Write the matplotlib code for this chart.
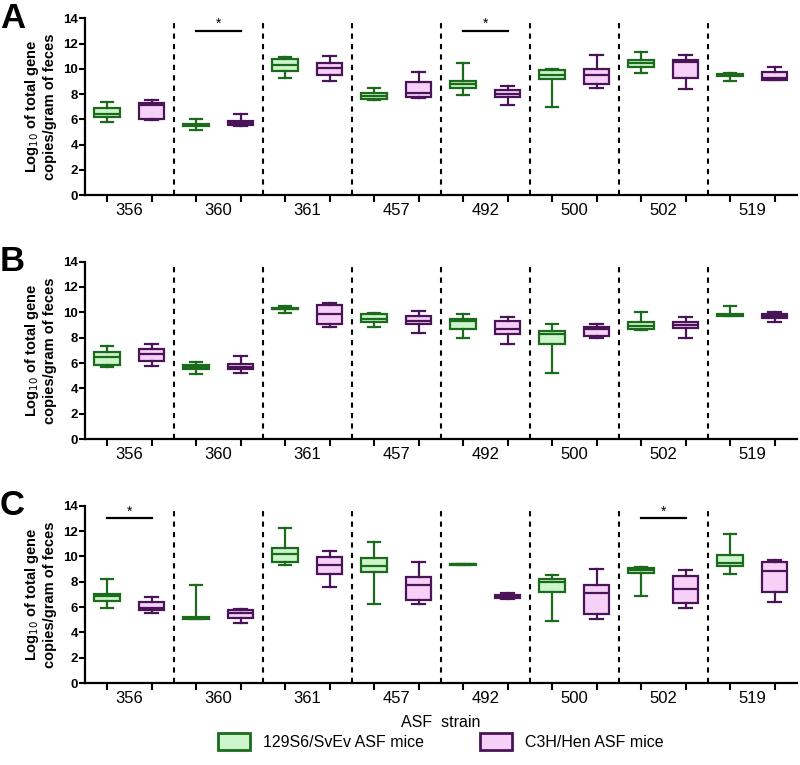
import numpy as np
import matplotlib.pyplot as plt
from matplotlib.patches import Patch

plt.rcParams['font.family'] = ['Liberation Sans', 'DejaVu Sans']

strains = ['356', '360', '361', '457', '492', '500', '502', '519']
groups = ['129S6/SvEv ASF mice', 'C3H/Hen ASF mice']

# [whisker low, q1, median, q3, whisker high] per strain
green_A = [[5.82, 6.2, 6.46, 6.91, 7.37], [5.16, 5.45, 5.55, 5.66, 6.06],
           [9.31, 9.81, 10.32, 10.77, 10.93], [7.53, 7.63, 7.85, 8.06, 8.51],
           [7.9, 8.48, 8.8, 9.07, 10.43], [6.94, 9.18, 9.55, 9.87, 10.0],
           [9.71, 10.16, 10.45, 10.74, 11.36], [9.04, 9.47, 9.55, 9.63, 9.71]]
purple_A = [[5.93, 6.06, 7.1, 7.29, 7.53], [5.5, 5.59, 5.72, 5.9, 6.41],
            [9.02, 9.55, 10.03, 10.45, 11.01], [7.69, 7.79, 8.11, 8.94, 9.76],
            [7.15, 7.74, 8.03, 8.35, 8.67], [8.51, 8.78, 9.55, 9.95, 11.06],
            [8.43, 9.31, 10.56, 10.69, 11.06], [9.08, 9.15, 9.25, 9.76, 10.16]]

green_B = [[5.72, 5.85, 6.46, 6.88, 7.36], [5.11, 5.51, 5.69, 5.83, 6.06],
           [9.97, 10.23, 10.28, 10.33, 10.47], [8.88, 9.2, 9.49, 9.83, 9.97],
           [7.99, 8.67, 9.31, 9.46, 9.83], [5.25, 7.49, 8.28, 8.49, 9.07],
           [8.62, 8.7, 8.94, 9.2, 9.99], [9.68, 9.7, 9.78, 9.86, 10.47]]
purple_B = [[5.8, 6.2, 6.75, 7.07, 7.54], [5.25, 5.54, 5.72, 5.93, 6.59],
            [8.88, 9.1, 9.83, 10.57, 10.7], [8.36, 9.1, 9.28, 9.75, 10.12],
            [7.51, 8.28, 8.7, 9.28, 9.65], [7.96, 8.15, 8.65, 8.81, 9.1],
            [8.01, 8.75, 8.99, 9.2, 9.62], [9.2, 9.54, 9.7, 9.83, 9.99]]

green_C = [[5.91, 6.46, 6.91, 7.07, 8.23], [5.04, 5.06, 5.14, 5.25, 7.72],
           [9.33, 9.54, 10.15, 10.65, 12.21], [6.27, 8.75, 9.25, 9.91, 11.13],
           [9.3, 9.32, 9.36, 9.4, 9.42], [4.88, 7.22, 8.01, 8.23, 8.54],
           [6.88, 8.67, 8.94, 9.12, 9.2], [8.62, 9.28, 9.46, 10.12, 11.78]]
purple_C = [[5.56, 5.75, 5.95, 6.41, 6.8], [4.77, 5.11, 5.51, 5.75, 5.85],
            [7.62, 8.62, 9.31, 9.99, 10.44], [6.27, 6.56, 7.75, 8.41, 9.57],
            [6.62, 6.72, 6.85, 6.99, 7.09], [5.04, 5.48, 7.12, 7.78, 9.02],
            [5.93, 6.3, 7.46, 8.46, 8.96], [6.41, 7.17, 8.83, 9.54, 9.75]]

# strains marked significant per panel
sig_A = ['360', '492']
sig_B = []
sig_C = ['356', '502']

panels = [('A', green_A, purple_A, sig_A),
          ('B', green_B, purple_B, sig_B),
          ('C', green_C, purple_C, sig_C)]

g_edge, g_fill = '#1c6b1c', '#ccf5cc'
p_edge, p_fill = '#4a1459', '#f7d0f7'

fig = plt.figure(figsize=(8, 7.65), dpi=100)
rects = [[0.106, 0.745, 0.89, 0.231],
         [0.106, 0.426, 0.89, 0.232],
         [0.106, 0.107, 0.89, 0.232]]


def stats(rows):
    return [dict(whislo=r[0], q1=r[1], med=r[2], q3=r[3], whishi=r[4], fliers=[])
            for r in rows]


x = np.arange(len(strains))
for rect, (letter, gvals, pvals, sig) in zip(rects, panels):
    ax = fig.add_axes(rect)
    for vals, pos, ec, fc in [(gvals, x - 0.25, g_edge, g_fill),
                              (pvals, x + 0.25, p_edge, p_fill)]:
        ax.bxp(stats(vals), positions=pos, widths=0.29, patch_artist=True,
               showfliers=False,
               boxprops=dict(facecolor=fc, edgecolor=ec, linewidth=1.6),
               medianprops=dict(color=ec, linewidth=1.6),
               whiskerprops=dict(color=ec, linewidth=1.6),
               capprops=dict(color=ec, linewidth=1.6), capwidths=0.14)
    for b in x[1:] - 0.5:
        ax.plot([b, b], [0, 14], color='black', ls=(0, (2.5, 2.5)), lw=1.5,
                clip_on=False)
    for s in sig:
        i = strains.index(s)
        ax.plot([i - 0.25, i + 0.25], [13, 13], color='black', lw=1.6)
        ax.text(i, 13.0, '*', ha='center', va='bottom', fontsize=10)

    ax.set_xlim(-0.5, 7.5)
    ax.set_ylim(0, 14)
    ax.set_yticks(range(0, 15, 2))
    ax.tick_params(axis='y', labelsize=9.5, width=1.5, length=4, pad=1)
    for t in ax.get_yticklabels():
        t.set_fontweight('bold')
    ax.set_xticks(np.concatenate([x - 0.25, x + 0.25]))
    ax.set_xticklabels([])
    ax.tick_params(axis='x', which='major', width=1.5, length=5)
    ax.set_xticks(x, minor=True)
    ax.set_xticklabels(strains, minor=True, fontsize=12)
    ax.tick_params(axis='x', which='minor', length=0, pad=6)
    for sp in ['top', 'right']:
        ax.spines[sp].set_visible(False)
    for sp in ['left', 'bottom']:
        ax.spines[sp].set_linewidth(1.6)
    ax.set_ylabel('Log$_{10}$ of total gene\ncopies/gram of feces',
                  fontsize=10.5, fontweight='bold', labelpad=4)
    fig.text(0.0, rect[1] + rect[3] + 0.022, letter, fontsize=25,
             fontweight='bold', va='top', ha='left')

fig.text(0.551, 0.056, 'ASF  strain', ha='center', va='center', fontsize=11.5)

handles = [Patch(facecolor=g_fill, edgecolor=g_edge, linewidth=2),
           Patch(facecolor=p_fill, edgecolor=p_edge, linewidth=2)]
fig.legend(handles, groups, loc='center', bbox_to_anchor=(0.551, 0.031),
           ncol=2, frameon=False, fontsize=11.5, handlelength=2.0,
           handleheight=1.3, columnspacing=3.5, handletextpad=0.8)

fig.savefig('out.png', dpi=100, facecolor='w')
